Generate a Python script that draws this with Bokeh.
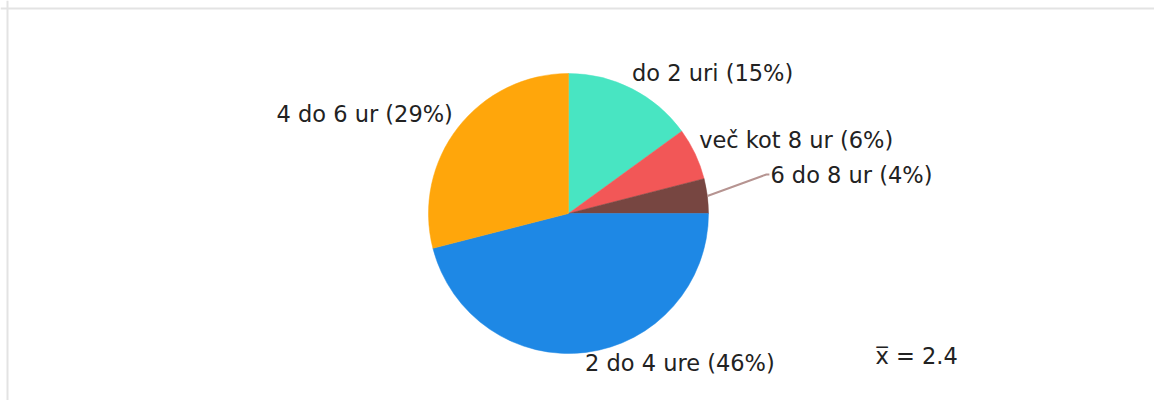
import math
from bokeh.plotting import figure
from bokeh.models import Range1d, Span, ColumnDataSource
from bokeh.core.properties import value
from bokeh.embed import file_html
from bokeh.resources import INLINE

# ---- data ----
categories = ["do 2 uri", "več kot 8 ur", "6 do 8 ur", "2 do 4 ure", "4 do 6 ur"]
percents = [15, 6, 4, 46, 29]
colors = ["#48E5C2", "#F25757", "#774641", "#1E88E5", "#FFA60B"]
mean_value = 2.4

# ---- layout (pixels) ----
W, H = 1154, 400
CX, CY = 568, 213
R = 140
FONT = "DejaVu Sans"
FSIZE = "22.5px"
TXT = "#222222"
TEXT_SHIFT = 9             # vertical correction for text baseline
# label offsets from the rim point at each slice's mid-angle (x right, y up)
label_dx = [0, 4, 63, -1, -5]
label_dy = [6.5, 5, 12.2, -19.8, 4.5]
label_align = ["left", "left", "left", "left", "right"]
leader_idx = 2
leader_end = (59, 21.5)

p = figure(width=W, height=H, output_backend="svg", toolbar_location=None,
           x_range=Range1d(-CX, W - CX), y_range=Range1d(-(H - CY), CY),
           x_axis_location=None, y_axis_location=None, min_border=0)
p.grid.visible = False
p.outline_line_color = None
p.background_fill_color = "white"
p.border_fill_color = "white"

total = float(sum(percents))
starts, ends, mids = [], [], []
cum = 0.0
for v in percents:
    a0 = math.pi / 2 - 2 * math.pi * cum / total
    a1 = math.pi / 2 - 2 * math.pi * (cum + v) / total
    starts.append(a1)
    ends.append(a0)
    mids.append((a0 + a1) / 2)
    cum += v

src = ColumnDataSource(dict(start=starts, end=ends, color=colors))
p.wedge(x=0, y=0, radius=R, start_angle="start", end_angle="end",
        direction="anticlock", fill_color="color", line_color="color",
        line_width=0.5, source=src)

# labels
for i, (cat, pct) in enumerate(zip(categories, percents)):
    ax = R * math.cos(mids[i])
    ay = R * math.sin(mids[i])
    if i == leader_idx:
        p.line([ax, ax + leader_end[0], ax + leader_end[0] + 3],
               [ay, ay + leader_end[1], ay + leader_end[1]],
               line_color="#B69491", line_width=2)
    p.text(x=[ax + label_dx[i]], y=[ay + label_dy[i] + TEXT_SHIFT],
           text=[f"{cat} ({pct}%)"], text_font=value(FONT),
           text_font_size=FSIZE, text_color=TXT,
           text_align=label_align[i], text_baseline="alphabetic")

# mean
p.text(x=[307], y=[-151 + TEXT_SHIFT], text=[f"x\u0305 = {mean_value}"],
       text_font=value(FONT), text_font_size=FSIZE, text_color=TXT,
       text_align="left", text_baseline="alphabetic")

# frame (top and left edges)
p.add_layout(Span(location=CY - 8, dimension="width",
                  line_color="#E3E3E3", line_width=2))
p.add_layout(Span(location=-CX + 7, dimension="height",
                  line_color="#E3E3E3", line_width=2))

open("out.html", "w").write(file_html(p, INLINE))
